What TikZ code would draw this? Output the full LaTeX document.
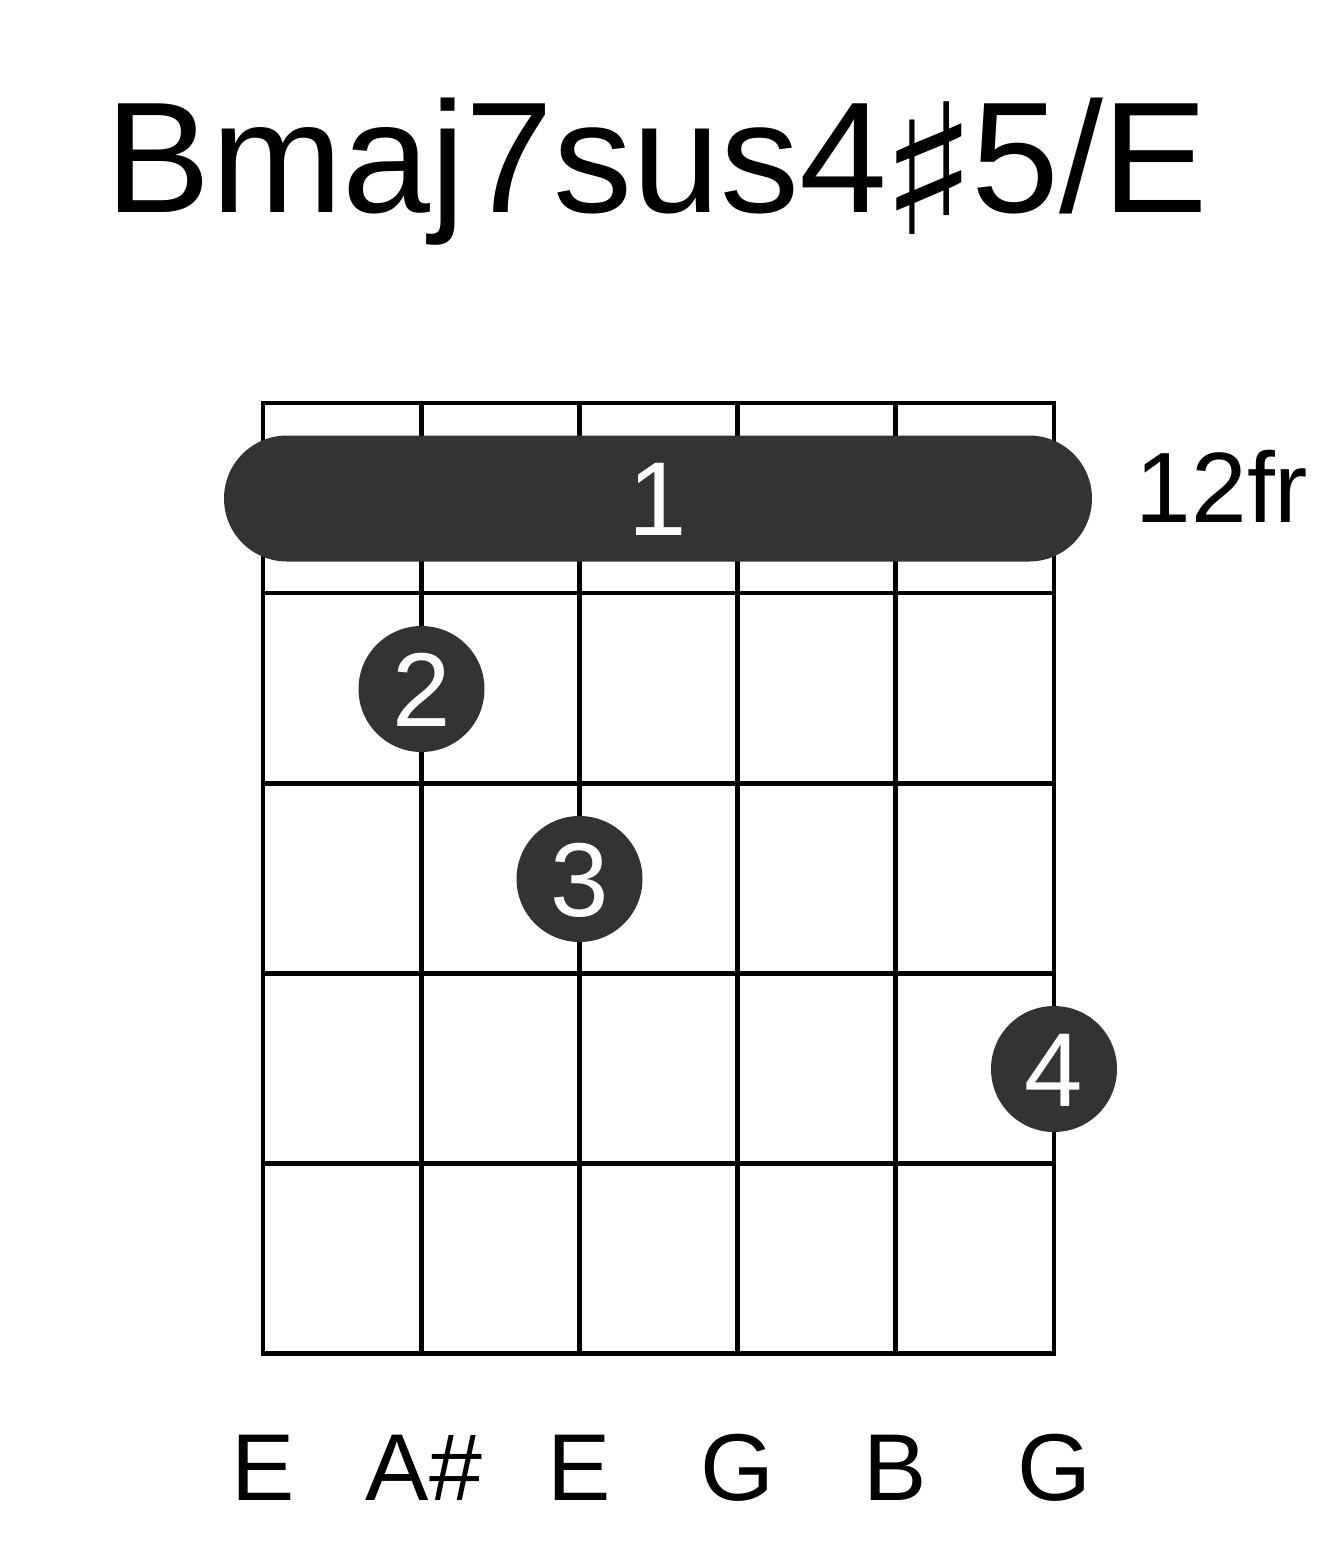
\documentclass[tikz,border=0pt]{standalone}
\usepackage{fontspec}
\setmainfont{Liberation Sans}
\newfontfamily\symfont{DejaVu Sans}
\newcommand{\bigsharp}{\makebox[84pt]{\raisebox{-22pt}{\scalebox{1.3}[1.15]{\symfont ♯}}}}
\begin{document}
\begin{tikzpicture}[x=1pt,y=-1pt,
  gridline/.style={line width=4.5pt, black},
  dot/.style={circle, fill=black!80, minimum size=126pt, inner sep=0pt},
  fingernum/.style={text=white, font=\fontsize{105}{105}\selectfont, anchor=base, inner sep=0pt},
  notelabel/.style={font=\fontsize{95}{95}\selectfont, anchor=base, inner sep=0pt},
  titlestyle/.style={font=\fontsize{158}{158}\selectfont, anchor=base, inner sep=0pt}]
\useasboundingbox[fill=white] (0,0) rectangle (1317,1551);
% title
\node[titlestyle] (title) at (657,212) {Bmaj7sus4\bigsharp5/E};
% grid: strings
\foreach \i/\x in {1/263,2/421.5,3/579.5,4/737.5,5/895.5,6/1054} {
  \coordinate (s\i top) at (\x,403);
  \coordinate (s\i bot) at (\x,1353.5);
  \draw[gridline] (s\i top) -- (s\i bot);
}
% frets
\foreach \j/\y in {0/403,1/593,2/783.5,3/973.5,4/1163.5,5/1353.5} {
  \coordinate (f\j l) at (263,\y);
  \coordinate (f\j r) at (1054,\y);
  \draw[gridline, line cap=rect] (f\j l) -- (f\j r);
}
% barre
\fill[black!80, rounded corners=63pt] (224,435.5) rectangle (1092,561.5);
\node[fingernum] (barre) at (658,535.5) {1};
% fret label
\node[font=\fontsize{100}{100}\selectfont, anchor=base, inner sep=0pt] (fr) at (1222,522) {12fr};
% finger dots
\node[dot] (d2) at (421.5,689) {};
\node[fingernum] (n2) at (421.5,726) {2};
\node[dot] (d3) at (579.5,879) {};
\node[fingernum] (n3) at (579.5,916) {3};
\node[dot] (d4) at (1054,1069) {};
\node[fingernum] (n4) at (1054,1106) {4};
% note labels
\node[notelabel] (l1) at (263,1500) {E};
\node[notelabel] (l2) at (424,1500) {A\#};
\node[notelabel] (l3) at (579.5,1500) {E};
\node[notelabel] (l4) at (737.5,1500) {G};
\node[notelabel] (l5) at (895.5,1500) {B};
\node[notelabel] (l6) at (1054,1500) {G};
\end{tikzpicture}
\end{document}
